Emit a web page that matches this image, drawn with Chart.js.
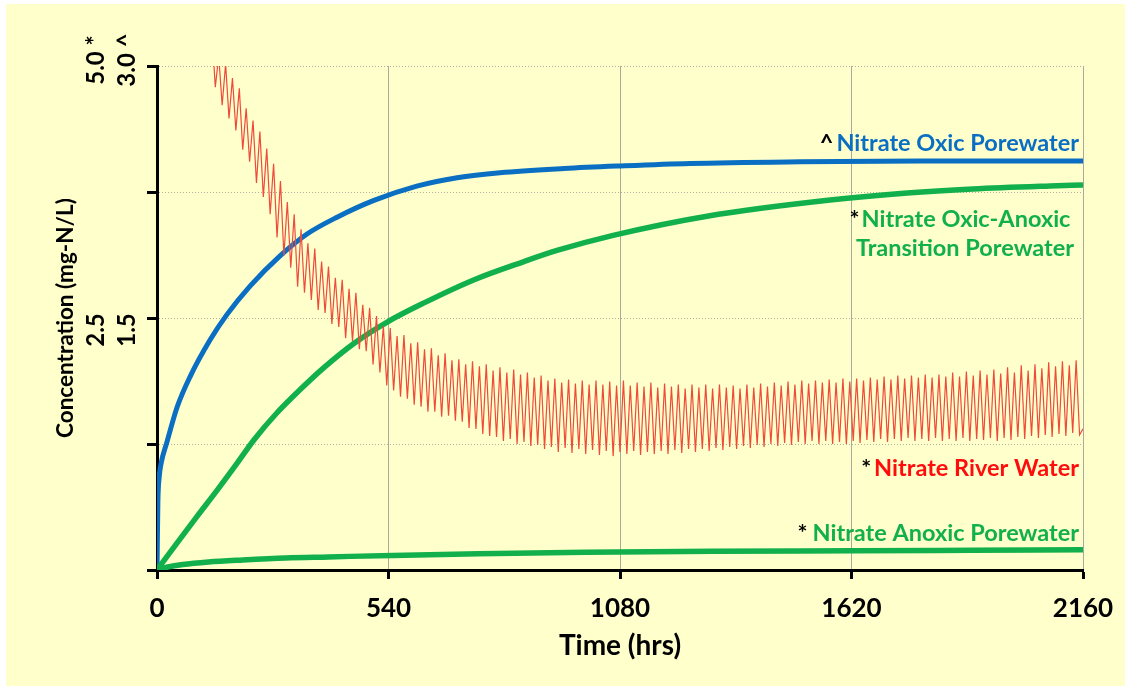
<!DOCTYPE html>
<html><head><meta charset="utf-8">
<script src="https://cdn.jsdelivr.net/npm/chart.js@4.4.0/dist/chart.umd.min.js"></script>
<style>
html,body{margin:0;padding:0;background:#ffffff;}
canvas{display:block;}
</style></head><body>
<canvas id="c" width="1129" height="690"></canvas>
<script>
// ---------- data ----------
const xTickValues = [0, 540, 1080, 1620, 2160];
const xTickLabels = ['0', '540', '1080', '1620', '2160'];
const yTickValues = [1.5, 3.0];                 // positions on the 3.0 (^) scale
const yTickLabelsStar = ['2.5', '5.0 *'];       // * scale (max 5.0)
const yTickLabelsCaret = ['1.5', '3.0 ^'];      // ^ scale (max 3.0)

const seriesNames = ['Nitrate Oxic Porewater', 'Nitrate Oxic-Anoxic', 'Transition Porewater', 'Nitrate River Water', 'Nitrate Anoxic Porewater'];

// ^ Nitrate Oxic Porewater (mg-N/L, 3.0 scale)
const oxicHours = [0, 2, 5, 10, 23, 47, 77, 124, 163, 217, 287, 350, 420, 506, 606, 700, 800, 950, 1080, 1243, 1500, 1780, 2160];
const oxicConc  = [0, 0.40, 0.55, 0.64, 0.76, 0.97, 1.15, 1.37, 1.52, 1.69, 1.87, 2.00, 2.10, 2.20, 2.285, 2.335, 2.365, 2.39, 2.405, 2.42, 2.43, 2.435, 2.435];

// * Nitrate Oxic-Anoxic Transition Porewater (5.0 scale)
const transHours = [0, 47, 93, 140, 187, 226, 280, 334, 390, 460, 537, 623, 740, 856, 933, 1064, 1283, 1570, 1750, 1903, 2083, 2160];
const transConc  = [0, 0.27, 0.53, 0.79, 1.06, 1.29, 1.56, 1.79, 2.01, 2.25, 2.46, 2.65, 2.88, 3.06, 3.17, 3.32, 3.51, 3.67, 3.74, 3.78, 3.81, 3.82];

// * Nitrate Anoxic Porewater (5.0 scale)
const anoxHours = [0, 25, 60, 120, 200, 300, 400, 550, 750, 1000, 1300, 1620, 1900, 2160];
const anoxConc  = [0, 0.03, 0.055, 0.08, 0.10, 0.12, 0.13, 0.145, 0.16, 0.175, 0.185, 0.19, 0.195, 0.20];

// * Nitrate River Water (5.0 scale)
const riverHours = [
0,8,16,24,32,40,48,56,64,72,80,88,96,104,112,120,
128,136,144,152,160,168,176,184,192,200,208,216,224,232,240,248,
256,264,272,280,288,296,304,312,320,328,336,344,352,360,368,376,
384,392,400,408,416,424,432,440,448,456,464,472,480,488,496,504,
512,520,528,536,544,552,560,568,576,584,592,600,608,616,624,632,
640,648,656,664,672,680,688,696,704,712,720,728,736,744,752,760,
768,776,784,792,800,808,816,824,832,840,848,856,864,872,880,888,
896,904,912,920,928,936,944,952,960,968,976,984,992,1000,1008,1016,
1024,1032,1040,1048,1056,1064,1072,1080,1088,1096,1104,1112,1120,1128,1136,1144,
1152,1160,1168,1176,1184,1192,1200,1208,1216,1224,1232,1240,1248,1256,1264,1272,
1280,1288,1296,1304,1312,1320,1328,1336,1344,1352,1360,1368,1376,1384,1392,1400,
1408,1416,1424,1432,1440,1448,1456,1464,1472,1480,1488,1496,1504,1512,1520,1528,
1536,1544,1552,1560,1568,1576,1584,1592,1600,1608,1616,1624,1632,1640,1648,1656,
1664,1672,1680,1688,1696,1704,1712,1720,1728,1736,1744,1752,1760,1768,1776,1784,
1792,1800,1808,1816,1824,1832,1840,1848,1856,1864,1872,1880,1888,1896,1904,1912,
1920,1928,1936,1944,1952,1960,1968,1976,1984,1992,2000,2008,2016,2024,2032,2040,
2048,2056,2064,2072,2080,2088,2096,2104,2112,2120,2128,2136,2144,2152,2160];
const riverConc = [
9.00,8.16,8.50,7.69,8.00,7.21,7.50,6.74,7.00,6.30,6.59,5.90,6.17,5.50,5.76,5.10,
5.35,4.79,5.10,4.61,5.02,4.48,4.88,4.36,4.78,4.17,4.58,4.05,4.46,3.84,4.35,3.70,
4.18,3.53,4.03,3.30,3.86,3.12,3.65,3.00,3.53,2.81,3.38,2.75,3.24,2.68,3.19,2.58,
3.06,2.55,3.01,2.44,2.90,2.41,2.88,2.30,2.79,2.27,2.75,2.19,2.63,2.17,2.60,2.04,
2.52,1.96,2.42,1.83,2.40,1.78,2.32,1.72,2.33,1.70,2.25,1.64,2.26,1.62,2.19,1.57,
2.20,1.57,2.13,1.52,2.15,1.53,2.08,1.48,2.09,1.47,2.04,1.41,2.07,1.40,2.02,1.35,
2.04,1.33,1.98,1.32,2.01,1.28,1.96,1.30,1.99,1.25,1.94,1.27,1.96,1.23,1.91,1.24,
1.93,1.20,1.88,1.22,1.90,1.17,1.86,1.21,1.89,1.16,1.85,1.20,1.88,1.15,1.84,1.19,
1.88,1.14,1.84,1.18,1.87,1.13,1.83,1.17,1.88,1.15,1.83,1.18,1.86,1.14,1.82,1.17,
1.86,1.15,1.81,1.18,1.85,1.15,1.82,1.19,1.84,1.16,1.80,1.20,1.84,1.17,1.81,1.20,
1.84,1.18,1.80,1.21,1.84,1.19,1.81,1.22,1.83,1.20,1.80,1.23,1.84,1.21,1.81,1.24,
1.85,1.22,1.82,1.25,1.86,1.23,1.83,1.26,1.87,1.24,1.84,1.27,1.88,1.25,1.85,1.28,
1.88,1.25,1.86,1.28,1.89,1.25,1.86,1.27,1.90,1.25,1.87,1.28,1.90,1.26,1.88,1.29,
1.91,1.27,1.89,1.30,1.92,1.27,1.89,1.30,1.93,1.28,1.90,1.31,1.93,1.28,1.91,1.30,
1.94,1.28,1.91,1.31,1.94,1.28,1.92,1.30,1.96,1.28,1.92,1.31,1.97,1.28,1.93,1.30,
1.98,1.29,1.94,1.31,1.99,1.28,1.95,1.31,2.01,1.29,1.96,1.32,2.03,1.30,1.98,1.33,
2.04,1.31,2.00,1.34,2.06,1.32,2.02,1.35,2.07,1.33,2.03,1.36,2.08,1.34,1.40];

// ---------- colours ----------
const BLUE = '#0a6fc2';
const GREEN = '#12b04c';
const RED_LINE = '#ef4a3c';
const RED_TEXT = '#ff0d0d';
const FONT = 'Lato';

const pairs = (xs, ys) => xs.map((x, i) => ({x: x, y: ys[i]}));

const bgPlugin = {
  id: 'bg',
  beforeDraw(chart) {
    const c = chart.ctx;
    c.save();
    c.fillStyle = '#ffffff';
    c.fillRect(0, 0, chart.width, chart.height);
    c.fillStyle = '#ffffcc';
    c.fillRect(6, 4, chart.width - 10, chart.height - 8);
    c.restore();
  }
};

const yLabelPlugin = {
  id: 'ylabels',
  afterDraw(chart) {
    const c = chart.ctx, ys = chart.scales.y;
    c.save();
    c.fillStyle = '#000';
    c.font = 'bold 24px ' + FONT;
    c.textAlign = 'center';
    c.textBaseline = 'middle';
    yTickValues.forEach((v, i) => {
      const py = ys.getPixelForValue(v) + (i === 0 ? 12 : -6);
      [[96, yTickLabelsStar[i]], [127, yTickLabelsCaret[i]]].forEach(([px, t]) => {
        c.save(); c.translate(px, py); c.rotate(-Math.PI / 2); c.fillText(t, 0, 0); c.restore();
      });
    });
    c.restore();
  }
};

const annotPlugin = {
  id: 'annot',
  afterDraw(chart) {
    const c = chart.ctx;
    c.save();
    c.font = 'bold 23.5px ' + FONT;
    c.textBaseline = 'alphabetic';
    const right = 1079;
    function rightLabel(mark, text, color, y, gap) {
      c.textAlign = 'right';
      c.fillStyle = color;
      c.fillText(text, right, y);
      const w = c.measureText(text).width;
      c.fillStyle = '#000';
      c.fillText(mark, right - w - gap, y);
    }
    rightLabel('^', seriesNames[0], BLUE, 151, 3);
    // two-line centred label
    c.textAlign = 'center';
    c.fillStyle = GREEN;
    c.fillText(seriesNames[1], 966, 227);
    c.fillText(seriesNames[2], 965, 256);
    const w1 = c.measureText(seriesNames[1]).width;
    c.textAlign = 'right';
    c.fillStyle = '#000';
    c.fillText('*', 966 - w1 / 2 - 2, 227);
    rightLabel('*', seriesNames[3], RED_TEXT, 476, 3);
    rightLabel('*', seriesNames[4], GREEN, 541, 5);
    c.restore();
  }
};

new Chart(document.getElementById('c'), {
  type: 'line',
  data: {
    datasets: [
      { label: 'River', data: pairs(riverHours, riverConc), yAxisID: 'y2',
        borderColor: RED_LINE, borderWidth: 1.2, pointRadius: 0, tension: 0 },
      { label: 'Anoxic', data: pairs(anoxHours, anoxConc), yAxisID: 'y2',
        borderColor: GREEN, borderWidth: 5.5, pointRadius: 0, cubicInterpolationMode: 'monotone' },
      { label: 'Transition', data: pairs(transHours, transConc), yAxisID: 'y2',
        borderColor: GREEN, borderWidth: 5.5, pointRadius: 0, cubicInterpolationMode: 'monotone' },
      { label: 'Oxic', data: pairs(oxicHours, oxicConc), yAxisID: 'y',
        borderColor: BLUE, borderWidth: 5, pointRadius: 0, cubicInterpolationMode: 'monotone' }
    ]
  },
  options: {
    responsive: false,
    animation: false,
    devicePixelRatio: 1,
    layout: { padding: { top: 66, right: 46, left: 0, bottom: 0 } },
    plugins: { legend: { display: false }, tooltip: { enabled: false } },
    scales: {
      x: {
        type: 'linear', min: 0, max: 2160,
        afterBuildTicks: (s) => { s.ticks = xTickValues.map(v => ({value: v})); },
        afterFit: (s) => { s.height = 120; },
        ticks: { color: '#000', font: { family: FONT, size: 26, weight: 'bold' }, padding: 14, maxRotation: 0,
                 callback: (v) => xTickLabels[xTickValues.indexOf(v)] },
        grid: { color: '#a9a9a0', lineWidth: 1, tickColor: '#000', tickWidth: 3, tickLength: 9 },
        border: { color: '#000', width: 3 },
        title: { display: true, text: 'Time (hrs)', color: '#000',
                 font: { family: FONT, size: 28, weight: 'bold' }, padding: { top: 0, bottom: 27 } }
      },
      y: {
        type: 'linear', min: 0, max: 3, position: 'left',
        ticks: { stepSize: 0.75, display: false },
        afterFit: (s) => { s.width = 157; },
        grid: { color: '#b0b0a0', lineWidth: 1, tickColor: '#000', tickWidth: 3, tickLength: 10, tickBorderDash: [] },
        border: { color: '#000', width: 3, dash: [1, 2] },
        title: { display: true, text: 'Concentration (mg-N/L)', color: '#000',
                 font: { family: FONT, size: 22.5, weight: 'bold' }, padding: { top: 52, bottom: 0 } }
      },
      y2: { type: 'linear', min: 0, max: 5, display: false }
    }
  },
  plugins: [bgPlugin, yLabelPlugin, annotPlugin]
});
</script>
</body></html>
